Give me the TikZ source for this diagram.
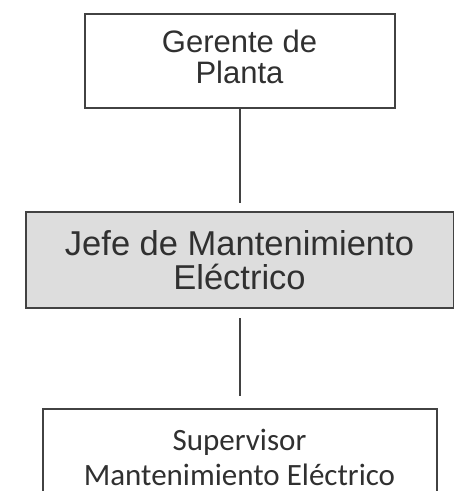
\documentclass[tikz,border=0pt]{standalone}
\usepackage{fontspec}
\setmainfont{Liberation Sans}
\newfontfamily\carlito{Carlito}
\usetikzlibrary{positioning}
\definecolor{boxline}{HTML}{424242}
\definecolor{boxtext}{HTML}{303030}
\definecolor{boxfill}{HTML}{DDDDDD}
\tikzstyle{post} = [
    rectangle,
    draw=boxline,
    line width=2pt,
    text=boxtext,
    align=center
]
\tikzstyle{link} = [
    draw=boxline,
    line width=2pt
]
\begin{document}
\begin{tikzpicture}[x=1pt, y=1pt]
    \useasboundingbox (0,0) rectangle (454,-491);

    % Top level
    \node[post, minimum width=310pt, minimum height=94pt,
          font=\fontsize{31}{28.5}\selectfont] (gerente) at (239.5,-61)
          {\begin{tabular}{@{}c@{}}Gerente de\\Planta\end{tabular}};

    % Second level
    \node[post, fill=boxfill, minimum width=428pt, minimum height=96pt,
          font=\fontsize{34.5}{34}\selectfont, below=102pt of gerente] (jefe) {Jefe de Mantenimiento\\El\'ectrico};

    % Third level
    \node[post, minimum width=394pt, minimum height=96pt,
          font=\carlito\fontsize{31}{35}\selectfont, below=99pt of jefe] (supervisor) {Supervisor\\Mantenimiento El\'ectrico};

    % Lines
    \draw[link, shorten >=8pt] (gerente) -- (jefe);
    \draw[link, shorten <=9pt, shorten >=12pt] (jefe) -- (supervisor);
\end{tikzpicture}
\end{document}
